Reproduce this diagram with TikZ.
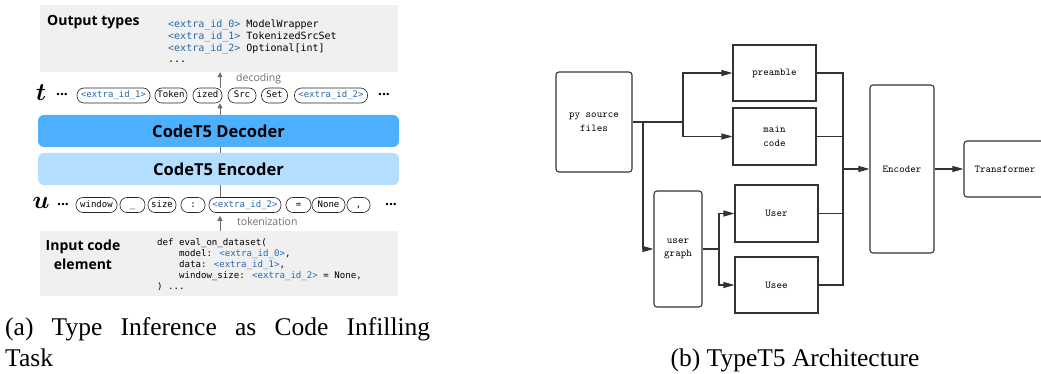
\documentclass[tikz,border=0pt]{standalone}
\usepackage{fontspec}
\usepackage{bm}
\setmainfont{Liberation Serif}
\newfontfamily\osans{Open Sans}
\newfontfamily\dmono{DejaVu Sans Mono}
\usetikzlibrary{arrows.meta}

\definecolor{panelgray}{RGB}{240,240,240}
\definecolor{decblue}{RGB}{77,176,255}
\definecolor{encblue}{RGB}{180,222,255}
\definecolor{idblue}{RGB}{40,105,170}
\definecolor{flowgray}{RGB}{110,110,110}
\definecolor{ink}{RGB}{51,51,51}

\newcommand\ex[1]{\textcolor{idblue}{#1}}

\tikzset{
  gbox/.style={fill=panelgray, draw=none, inner sep=0pt},
  tok/.style={draw=black!85, line width=0.6pt, rounded corners=7pt, fill=white,
    minimum height=15pt, inner sep=0pt, text height=7pt, text depth=2pt,
    font=\dmono\fontsize{9}{9}\selectfont},
  bar/.style={rounded corners=6pt, minimum width=361pt, minimum height=32pt,
    inner sep=0pt, font=\osans\bfseries\fontsize{16.5}{16.5}\selectfont},
  head/.style={font=\osans\bfseries\fontsize{14}{19}\selectfont, inner sep=0pt},
  lbl/.style={font=\osans\fontsize{10.5}{10.5}\selectfont, text=flowgray, inner sep=0pt},
  dots/.style={font=\osans\bfseries\fontsize{14}{14}\selectfont, inner sep=0pt},
  var/.style={font=\fontsize{23}{23}\selectfont, inner sep=0pt},
  code/.style={font=\dmono, align=left, inner sep=0pt, anchor=north west},
  flow/.style={draw=flowgray, line width=0.8pt, -{Triangle[length=5pt,width=5pt]}},
  blk/.style={draw=ink, line width=1.1pt, minimum width=83pt, minimum height=56pt,
    inner sep=0pt, align=center, font=\ttfamily\fontsize{10.5}{13.5}\selectfont},
  rblk/.style={blk, rounded corners=3pt},
  link/.style={draw=ink, line width=1.1pt},
  arr/.style={link, -{Triangle[length=11pt,width=6pt]}},
  captext/.style={font=\fontsize{25.5}{33}\selectfont, inner sep=0pt}
}

\begin{document}
\begin{tikzpicture}[x=1pt,y=-1pt]
\useasboundingbox (0,0) rectangle (1041,374);
\clip (0,0) rectangle (1041,374);

% ---------- (a) type inference as code infilling ----------
\node[gbox, minimum width=358pt, minimum height=67pt] (outbox) at (219,38.5) {};
\node[gbox, minimum width=358pt, minimum height=65pt] (inbox) at (219,263.5) {};

\node[head, anchor=west] (outlbl) at (47,22) {Output types};
\node[code, font=\dmono\fontsize{10}{11.7}\selectfont] (outcode) at (168,20) {%
\ex{<extra\_id\_0>} ModelWrapper\\
\ex{<extra\_id\_1>} TokenizedSrcSet\\
\ex{<extra\_id\_2>} Optional[int]\\
...};

\node[head, align=center] (inlbl) at (83,254.5) {Input code\\element};
\node[code, font=\dmono\fontsize{9.1}{11}\selectfont] (incode) at (157,238.3) {%
def eval\_on\_dataset(\\
\phantom{xxxx}model: \ex{<extra\_id\_0>},\\
\phantom{xxxx}data: \ex{<extra\_id\_1>},\\
\phantom{xxxx}window\_size: \ex{<extra\_id\_2>} = None,\\
) ...};

% shared vertical flow through the model
\coordinate (flowx) at (220,197);

% output token row t
\node[var] (tvar) at (41,93) {$\bm{t}$};
\node[dots] (tdl) at (62,95) {...};
\node[tok, minimum width=73pt] (t1) at (113.5,95.5) {\ex{<extra\_id\_1>}};
\node[tok, minimum width=32pt] (t2) at (171,95.5) {Token};
\node[tok, minimum width=29pt] (t3) at (207.5,95.5) {ized};
\node[tok, minimum width=28pt] (t4) at (242,95.5) {Src};
\node[tok, minimum width=26pt] (t5) at (274.5,95.5) {Set};
\node[tok, minimum width=73pt] (t6) at (331,95.5) {\ex{<extra\_id\_2>}};
\node[dots] (tdr) at (384,95) {...};

% input token row u
\node[var] (uvar) at (41,203) {$\bm{u}$};
\node[dots] (udl) at (63,205) {...};
\node[tok, minimum width=41pt] (u1) at (96.5,205) {window};
\node[tok, minimum width=25pt] (u2) at (132.5,205) {\_};
\node[tok, minimum width=28pt] (u3) at (162,205) {size};
\node[tok, minimum width=24pt] (u4) at (193,205) {:};
\node[tok, minimum width=72pt] (u5) at (245,205) {\ex{<extra\_id\_2>}};
\node[tok, minimum width=25pt] (u6) at (298.5,205) {=};
\node[tok, minimum width=33pt] (u7) at (328.5,205) {None};
\node[tok, minimum width=23pt] (u8) at (358.5,205) {,};
\node[dots] (udr) at (391,205) {...};

% encoder-decoder pass, drawn behind the two bars
\draw[flow] (flowx |- u5.north) -- (flowx |- t3.south);

\node[bar, fill=decblue] (dec) at (218.5,131) {CodeT5 Decoder};
\node[bar, fill=encblue] (enc) at (218.5,169) {CodeT5 Encoder};

\draw[flow] (flowx |- t3.north) -- (flowx |- outbox.south);
\node[lbl, anchor=west] (declbl) at (236,79) {decoding};
\draw[flow, shorten >=3pt] (flowx |- inbox.north) -- (flowx |- u5.south);
\node[lbl, anchor=west] (toklbl) at (237,222) {tokenization};

% ---------- (b) TypeT5 architecture ----------
\node[rblk, minimum width=76pt, minimum height=100pt] (py) at (594,122) {py source\\files};
\node[blk] (pre) at (774.5,73) {preamble};
\node[blk, minimum height=57pt] (main) at (774.5,136.5) {main\\code};
\node[rblk, minimum width=48pt, minimum height=116pt] (ug) at (678,249) {user\\graph};
\node[blk, minimum height=57pt] (user) at (776.5,213.5) {User};
\node[blk] (usee) at (776.5,285) {Usee};
\node[rblk, minimum width=64pt, minimum height=168pt] (encb) at (902,169) {Encoder};
\node[rblk, minimum width=82pt, minimum height=56pt] (trans) at (1005,169) {Transformer};

\coordinate (j1) at (683,122);
\coordinate (j2) at (643,122);
\coordinate (j3) at (719,249);
\coordinate (j4) at (843,169);

\draw[link] (py.east) -- (j1);
\draw[arr] (j1) |- (pre.west);
\draw[arr] (j1) |- (main.west);
\draw[arr] (j2) |- (ug.west);
\draw[link] (ug.east) -- (j3);
\draw[arr] (j3) |- (user.west);
\draw[arr] (j3) |- (usee.west);
\draw[link] (pre.east) -| (j4);
\draw[link] (main.east) -| (j4);
\draw[link] (user.east) -| (j4);
\draw[link] (usee.east) -| (j4);
\draw[arr] (j4) -- (encb.west);
\draw[arr] (encb.east) -- (trans.west);

% ---------- captions ----------
\node[captext, anchor=base west] (capa) at (5,335) {\makebox[425pt][s]{(a) Type Inference as Code Infilling}};
\node[captext, anchor=base west] (capa2) at (5,366) {Task};
\node[captext, anchor=base] (capb) at (795,366) {(b) TypeT5 Architecture};
\end{tikzpicture}
\end{document}
